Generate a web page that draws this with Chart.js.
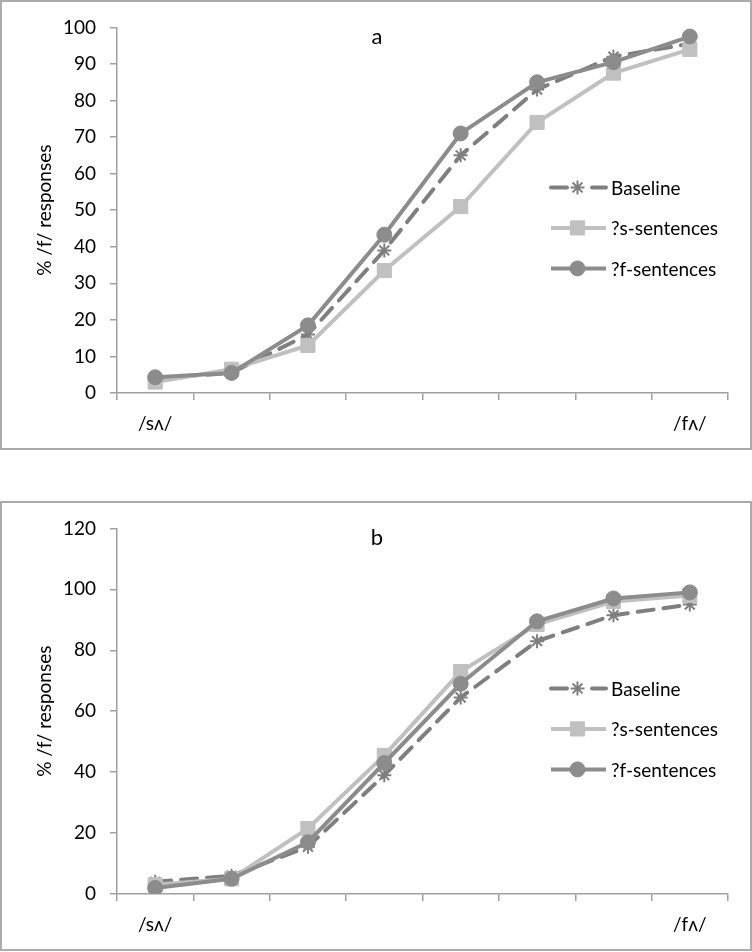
<!DOCTYPE html>
<html>
<head>
<meta charset="utf-8">
<script src="https://cdn.jsdelivr.net/npm/chart.js@4"></script>
<style>
  body { margin: 0; background: #fff; }
  .box { position: absolute; left: 0; width: 752px; height: 450px; box-sizing: border-box; border: 2px solid #ababab; background: #fff; }
  canvas { display: block; }
</style>
</head>
<body>
<div class="box" style="top:0"><canvas id="chartA" width="748" height="446"></canvas></div>
<div class="box" style="top:501px"><canvas id="chartB" width="748" height="446"></canvas></div>
<script>
const categories = ['/sʌ/', '', '', '', '', '', '', '/fʌ/'];
const seriesNames = ['Baseline', '?s-sentences', '?f-sentences'];

// panel a
const baselineA = [4, 5.5, 16, 39, 65, 83, 92, 95.5];
const sSentA = [3, 6.5, 13, 33.5, 51, 74, 87.5, 94];
const fSentA = [4.3, 5.5, 18.5, 43.3, 71, 85, 90.5, 97.5];

// panel b
const baselineB = [4, 6, 15.5, 39, 64.5, 83, 91.5, 95];
const sSentB = [3, 5, 21.5, 45.5, 73, 88.5, 96, 98];
const fSentB = [2, 5, 17, 43, 69, 89.5, 97, 99];

const yAxisTitle = '% /f/ responses';

Chart.defaults.font.family = 'Lato, "Open Sans", sans-serif';
Chart.defaults.font.size = 19;
Chart.defaults.color = '#000';

const axisGray = '#a0a0a0';

// draws the panel letter and the legend inside the plot area
const panelText = {
    id: 'panelText',
    afterDraw(chart, args, opts) {
        const ctx = chart.ctx;
        const area = chart.chartArea;
        ctx.save();
        ctx.fillStyle = '#000';
        ctx.font = '22px Lato, "Open Sans", sans-serif';
        ctx.textAlign = 'center';
        ctx.textBaseline = 'alphabetic';
        ctx.fillText(opts.letter, 375, area.top + 17);

        chart.data.datasets.forEach((ds, i) => {
            const y = area.top + 160 + i * 40.5;
            const x0 = area.right - 179;
            const x1 = area.right - 122;
            ctx.save();
            ctx.strokeStyle = ds.borderColor;
            ctx.lineWidth = ds.borderWidth;
            ctx.lineCap = ds.borderDash ? 'round' : 'butt';
            if (ds.borderDash) ctx.setLineDash([16, 25]);
            ctx.beginPath();
            ctx.moveTo(x0 + 2, y);
            ctx.lineTo(x1, y);
            ctx.stroke();
            ctx.restore();

            ctx.save();
            ctx.fillStyle = ds.pointBackgroundColor;
            ctx.strokeStyle = ds.pointBorderColor;
            ctx.lineWidth = ds.pointBorderWidth;
            Chart.helpers.drawPoint(ctx, {
                pointStyle: ds.pointStyle,
                radius: ds.pointRadius,
                borderWidth: ds.pointBorderWidth,
                rotation: 0
            }, (x0 + x1) / 2, y);
            ctx.restore();

            ctx.fillStyle = '#000';
            ctx.font = '19px Lato, "Open Sans", sans-serif';
            ctx.textAlign = 'left';
            ctx.textBaseline = 'middle';
            ctx.fillText(ds.label, area.right - 117, y + 1);
        });
        ctx.restore();
    }
};

function makeDatasets(base, sSent, fSent) {
    return [{
        label: seriesNames[0],
        data: base,
        borderColor: '#7f7f7f',
        borderWidth: 4,
        borderDash: [16, 10],
        borderCapStyle: 'round',
        pointStyle: 'star',
        pointRadius: 7,
        pointBorderWidth: 2,
        pointBorderColor: '#7f7f7f',
        pointBackgroundColor: '#7f7f7f',
        order: 3
    }, {
        label: seriesNames[1],
        data: sSent,
        borderColor: '#c0c0c0',
        borderWidth: 4,
        pointStyle: 'rect',
        pointRadius: 10,
        pointBorderWidth: 1,
        pointBorderColor: '#c0c0c0',
        pointBackgroundColor: '#c0c0c0',
        order: 2
    }, {
        label: seriesNames[2],
        data: fSent,
        borderColor: '#8c8c8c',
        borderWidth: 4,
        pointStyle: 'circle',
        pointRadius: 7.5,
        pointBorderWidth: 1,
        pointBorderColor: '#8c8c8c',
        pointBackgroundColor: '#8c8c8c',
        order: 1
    }];
}

function makeChart(id, letter, datasets, yMax, yStep) {
    return new Chart(document.getElementById(id).getContext('2d'), {
        type: 'line',
        data: { labels: categories, datasets: datasets },
        plugins: [panelText],
        options: {
            responsive: false,
            animation: false,
            layout: { padding: { top: 22, right: 22, left: 0, bottom: 0 } },
            plugins: {
                legend: { display: false },
                tooltip: { enabled: false },
                panelText: { letter: letter }
            },
            elements: { line: { tension: 0 } },
            scales: {
                x: {
                    offset: true,
                    grid: { offset: true, drawOnChartArea: false, tickLength: 7, color: axisGray, lineWidth: 1.5 },
                    border: { color: axisGray, width: 1.5 },
                    ticks: { autoSkip: false, maxRotation: 0, padding: 12 },
                    afterFit(scale) { scale.height = 55; }
                },
                y: {
                    min: 0,
                    max: yMax,
                    ticks: { stepSize: yStep, padding: 14 },
                    grid: { drawOnChartArea: false, tickLength: 7, color: axisGray, lineWidth: 1.5 },
                    border: { color: axisGray, width: 1.5 },
                    title: { display: true, text: yAxisTitle, padding: { top: 31, bottom: 0 } },
                    afterFit(scale) { scale.width = 115; }
                }
            }
        }
    });
}

makeChart('chartA', 'a', makeDatasets(baselineA, sSentA, fSentA), 100, 10);
makeChart('chartB', 'b', makeDatasets(baselineB, sSentB, fSentB), 120, 20);
</script>
</body>
</html>
